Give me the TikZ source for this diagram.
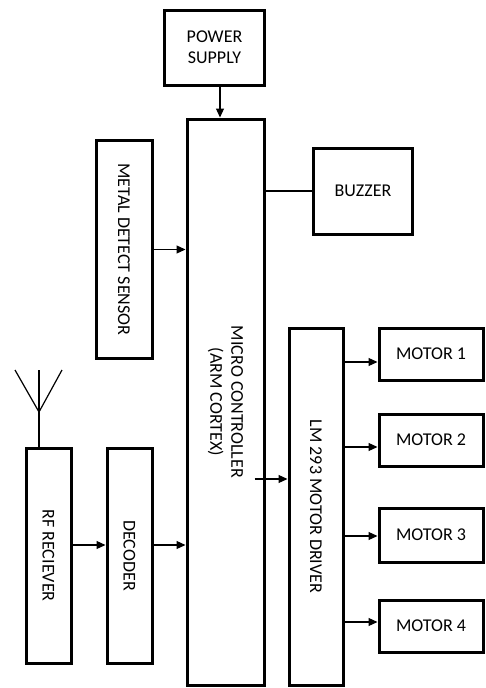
\documentclass[tikz,border=0pt]{standalone}
\usepackage{fontspec}
\setmainfont{Carlito}
\usetikzlibrary{arrows.meta,positioning,calc}
\tikzset{
  block/.style={rectangle, draw=black, line width=3pt, align=center, inner sep=2pt, font=\fontsize{18}{21}\selectfont},
  vblock/.style={block, rotate=-90},
  flow/.style={line width=1.2pt, -{Triangle[length=9pt, width=8pt]}},
  wire/.style={line width=1.2pt},
}
\begin{document}
\begin{tikzpicture}[x=1pt, y=-1pt]
  \useasboundingbox (0,0) rectangle (485,688);
  % blocks
  \node[block, minimum width=100pt, minimum height=75pt] (pwr) at (214.5,47.5) {POWER\\SUPPLY};
  \node[vblock, minimum width=566pt, minimum height=77pt] (mc) at (225.5,402) {MICRO CONTROLLER\\(ARM CORTEX)};
  \node[vblock, minimum width=218pt, minimum height=56pt] (sens) at (124,249.5) {METAL DETECT SENSOR};
  \node[block, minimum width=99pt, minimum height=86pt] (buz) at (363,191) {BUZZER};
  \node[vblock, minimum width=357pt, minimum height=54pt] (drv) at (316,506.5) {LM 293 MOTOR DRIVER};
  \node[vblock, minimum width=215pt, minimum height=45pt] (rf) at (48.5,555.5) {RF RECIEVER};
  \node[vblock, minimum width=215pt, minimum height=45pt] (dec) at (129.5,555.5) {DECODER};
  % motors
  \node[block, minimum width=104pt, minimum height=52pt] (m1) at (431,354) {MOTOR 1};
  \node[block, minimum width=104pt, minimum height=52pt] (m2) at (431,440) {MOTOR 2};
  \node[block, minimum width=104pt, minimum height=54pt] (m3) at (431,535) {MOTOR 3};
  \node[block, minimum width=104pt, minimum height=52pt] (m4) at (431,626) {MOTOR 4};
  % antenna
  \coordinate (ant) at (39,412);
  \draw[wire] (rf.west -| ant) -- (ant);
  \draw[wire] (ant) -- ++(-24,-42);
  \draw[wire] (ant) -- ++(0,-42);
  \draw[wire] (ant) -- ++(23,-42);
  % links
  \draw[flow] ([xshift=5.5pt]pwr.south) -- ([xshift=5.5pt]pwr.south |- mc.west);
  \draw[flow] (sens.north) -- (sens.north -| mc.south);
  \draw[wire] (mc.north |- buz.west) -- (buz.west);
  \draw[flow] ($(mc.north |- 0,479)+(-11,0)$) -- (drv.south |- 0,479);
  \draw[flow] (rf.north |- 0,545) -- (dec.south |- 0,545);
  \draw[flow] (dec.north |- 0,545) -- (mc.south |- 0,545);
  \foreach \m/\d in {m1/8, m2/7, m3/1, m4/-4}
    \draw[flow] ([yshift=-\d pt]\m.west -| drv.north) -- ([yshift=-\d pt]\m.west);
\end{tikzpicture}
\end{document}
